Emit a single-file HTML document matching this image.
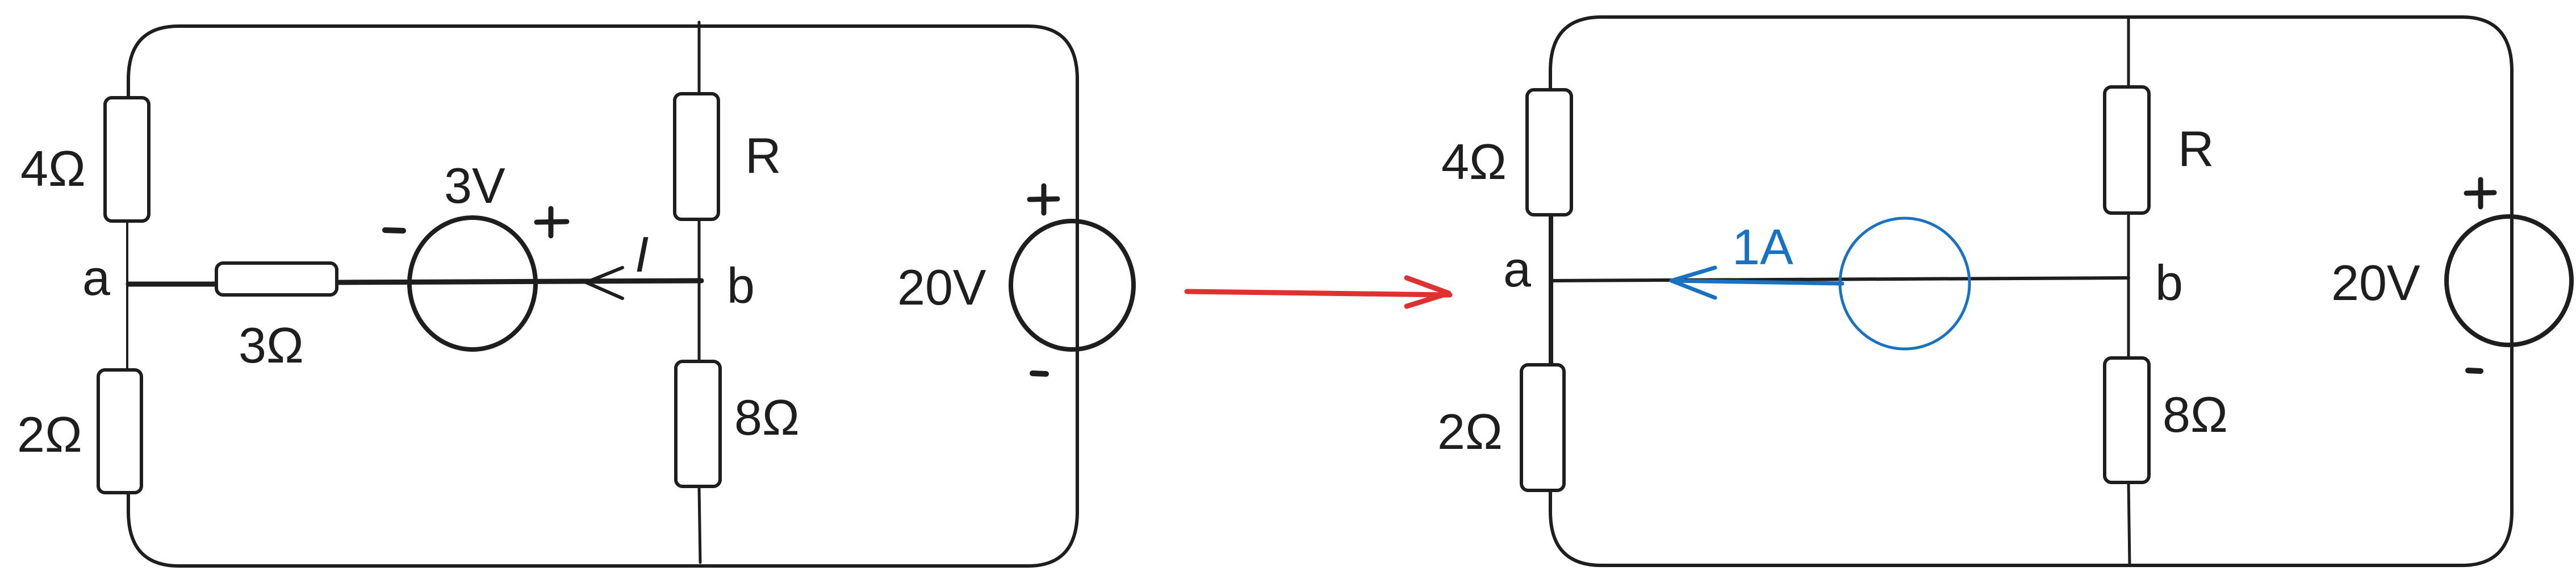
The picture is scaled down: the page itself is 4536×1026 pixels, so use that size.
<!DOCTYPE html>
<html><head><meta charset="utf-8"><style>
html,body{margin:0;padding:0;background:#fff;}
svg{display:block;}
text{font-family:"Liberation Sans",sans-serif;fill:#1e1e1e;}
</style></head><body>
<svg width="4536" height="1026" viewBox="0 0 4536 1026" xmlns="http://www.w3.org/2000/svg">
<g fill="none" stroke="#1e1e1e" stroke-linecap="round" stroke-linejoin="round">
<!-- LEFT CIRCUIT -->
<g>
 <path stroke-width="6" d="M226 172 L226 140 Q226 46 315 46 L1810 46 Q1897 46 1897 140 L1897 900 Q1897 996 1810 996 L315 996 Q226 996 226 900 L226 867"/>
 <path stroke-width="4" d="M224 389 L224 651"/>
 <path stroke-width="5" d="M1231 39 L1231 165 M1231 386 L1231 636 M1231 856 L1233 990"/>
 <rect x="185" y="172" width="77" height="217" rx="12" stroke-width="6" fill="#fff"/>
 <rect x="173" y="651" width="76" height="216" rx="12" stroke-width="6" fill="#fff"/>
 <path stroke-width="9" d="M226 500 L380 500 M593 497 L1235 494"/>
 <rect x="381" y="463" width="212" height="56" rx="12" stroke-width="6" fill="#fff"/>
 <ellipse cx="832" cy="499" rx="111" ry="116" stroke-width="8"/>
 <path stroke-width="6" d="M1096 471 L1032 497 L1096 525"/>
 <rect x="1188" y="165" width="77" height="221" rx="12" stroke-width="6" fill="#fff"/>
 <rect x="1190" y="636" width="78" height="220" rx="12" stroke-width="6" fill="#fff"/>
 <ellipse cx="1888" cy="502" rx="108" ry="113" stroke-width="8" fill="none"/>
 <path stroke-width="9" d="M970 367 L970 415 M945 391 L998 390"/>
 <path stroke-width="10" d="M678 405 L710 406"/>
 <path stroke-width="9" d="M1838 327 L1838 375 M1813 351 L1862 350"/>
 <path stroke-width="10" d="M1818 657 L1842 658"/>
</g>
<!-- RED ARROW -->
<g stroke="#e03131" stroke-width="9">
 <path d="M2090 513 L2553 519 M2477 489 L2551 516 L2477 539"/>
</g>
<!-- RIGHT CIRCUIT -->
<g>
 <path stroke-width="6" d="M2730 158 L2730 125 Q2730 30 2820 30 L4335 30 Q4423 30 4423 125 L4423 900 Q4423 995 4335 995 L2820 995 Q2730 995 2730 900 L2730 863"/>
 <path stroke-width="4" d="M2729 378 L2729 642 M2733 378 L2733 642"/>
 <path stroke-width="5" d="M3748 30 L3748 153 M3748 375 L3748 630 M3748 849 L3750 995"/>
 <rect x="2689" y="158" width="78" height="220" rx="12" stroke-width="6" fill="#fff"/>
 <rect x="2679" y="642" width="75" height="221" rx="12" stroke-width="6" fill="#fff"/>
 <path stroke-width="6" d="M2730 494 L3748 489"/>
 <rect x="3706" y="153" width="78" height="222" rx="12" stroke-width="6" fill="#fff"/>
 <rect x="3706" y="630" width="78" height="219" rx="12" stroke-width="6" fill="#fff"/>
 <ellipse cx="3354" cy="499" rx="114" ry="115" stroke="#1971c2" stroke-width="5"/>
 <path stroke="#1971c2" stroke-width="7" d="M3244 499 L2943 494 M3020 471 L2943 494 L3020 524"/>
 <ellipse cx="4418" cy="494" rx="110" ry="113" stroke-width="8"/>
 <path stroke-width="9" d="M4368 316 L4368 364 M4343 340 L4392 339"/>
 <path stroke-width="10" d="M4346 652 L4368 653"/>
</g>
</g>
<!-- LABELS -->
<g font-size="88">
 <text x="36" y="327">4Ω</text>
 <text x="30" y="795">2Ω</text>
 <text x="145" y="519">a</text>
 <text x="420" y="638">3Ω</text>
 <text x="782" y="357">3V</text>
 <text x="1118" y="478" font-style="italic">I</text>
 <text x="1280" y="533">b</text>
 <text x="1312" y="304">R</text>
 <text x="1293" y="765">8Ω</text>
 <text x="1580" y="536">20V</text>

 <text x="2538" y="315">4Ω</text>
 <text x="2531" y="790">2Ω</text>
 <text x="2647" y="504">a</text>
 <text x="3050" y="465" fill="#1971c2" style="fill:#1971c2">1A</text>
 <text x="3795" y="528">b</text>
 <text x="3835" y="292">R</text>
 <text x="3808" y="760">8Ω</text>
 <text x="4105" y="528">20V</text>
</g>
</svg>
</body></html>
